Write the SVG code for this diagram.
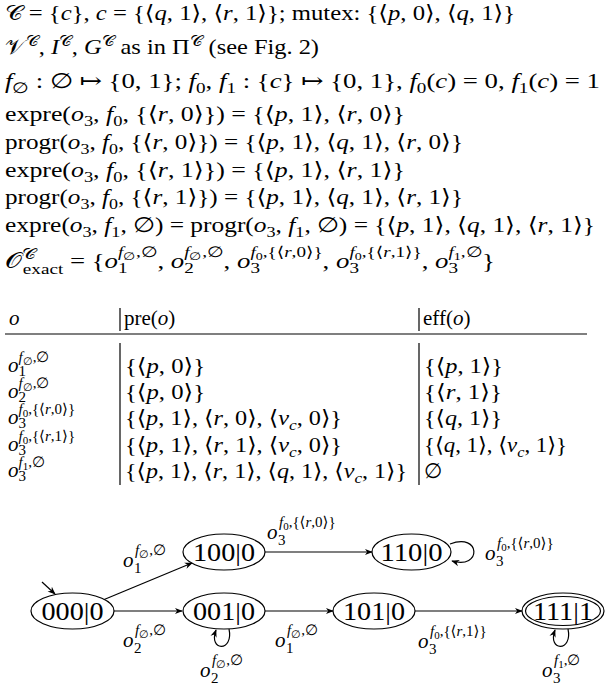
<svg xmlns="http://www.w3.org/2000/svg" width="605" height="687" viewBox="0 0 605 687">
<defs>
<style>
.t{font-family:"Liberation Serif","DejaVu Serif",serif;font-size:21px;fill:#000}
.i{font-style:italic}
.s{font-size:15px}
.ss{font-size:11px}
.nl{font-family:"Liberation Serif","DejaVu Serif",serif;font-size:26px;fill:#000;text-anchor:middle}
.node{fill:#fff;stroke:#000;stroke-width:1.2}
.e{fill:none;stroke:#000;stroke-width:1.2}
.rule{stroke:#000;stroke-width:1.2}
</style>
<marker id="ah" viewBox="0 0 10 10" refX="9" refY="5" markerWidth="8" markerHeight="8" orient="auto" markerUnits="userSpaceOnUse">
<path d="M0,1 L10,5 L0,9 L3,5 z" fill="#000"/>
</marker>
</defs>
<rect width="605" height="687" fill="#fff"/>

<g id="text-lines">
<text class="t" x="5" y="20" textLength="510" lengthAdjust="spacingAndGlyphs">𝒞 = {<tspan class="i">c</tspan>}, <tspan class="i">c</tspan> = {⟨<tspan class="i">q</tspan>, 1⟩, ⟨<tspan class="i">r</tspan>, 1⟩}; mutex: {⟨<tspan class="i">p</tspan>, 0⟩, ⟨<tspan class="i">q</tspan>, 1⟩}</text>
<text class="t" x="5" y="54" textLength="314" lengthAdjust="spacingAndGlyphs">𝒱<tspan class="s" dy="-8">𝒞</tspan><tspan dy="8">, </tspan><tspan class="i">I</tspan><tspan class="s" dy="-8">𝒞</tspan><tspan dy="8">, </tspan><tspan class="i">G</tspan><tspan class="s" dy="-8">𝒞</tspan><tspan dy="8"> as in Π</tspan><tspan class="s" dy="-8">𝒞</tspan><tspan dy="8"> (see Fig. 2)</tspan></text>
<text class="t" x="5" y="88" textLength="595" lengthAdjust="spacingAndGlyphs"><tspan class="i">f</tspan><tspan class="s" dy="5">∅</tspan><tspan dy="-5"> : ∅ ↦ {0, 1}; </tspan><tspan class="i">f</tspan><tspan class="s" dy="5">0</tspan><tspan dy="-5">, </tspan><tspan class="i">f</tspan><tspan class="s" dy="5">1</tspan><tspan dy="-5"> : {</tspan><tspan class="i">c</tspan>} ↦ {0, 1}, <tspan class="i">f</tspan><tspan class="s" dy="5">0</tspan><tspan dy="-5">(</tspan><tspan class="i">c</tspan>) = 0, <tspan class="i">f</tspan><tspan class="s" dy="5">1</tspan><tspan dy="-5">(</tspan><tspan class="i">c</tspan>) = 1</text>
<text class="t" x="5" y="121" textLength="400" lengthAdjust="spacingAndGlyphs">expre(<tspan class="i">o</tspan><tspan class="s" dy="5">3</tspan><tspan dy="-5">, </tspan><tspan class="i">f</tspan><tspan class="s" dy="5">0</tspan><tspan dy="-5">, {⟨</tspan><tspan class="i">r</tspan>, 0⟩}) = {⟨<tspan class="i">p</tspan>, 1⟩, ⟨<tspan class="i">r</tspan>, 0⟩}</text>
<text class="t" x="5" y="149" textLength="458" lengthAdjust="spacingAndGlyphs">progr(<tspan class="i">o</tspan><tspan class="s" dy="5">3</tspan><tspan dy="-5">, </tspan><tspan class="i">f</tspan><tspan class="s" dy="5">0</tspan><tspan dy="-5">, {⟨</tspan><tspan class="i">r</tspan>, 0⟩}) = {⟨<tspan class="i">p</tspan>, 1⟩, ⟨<tspan class="i">q</tspan>, 1⟩, ⟨<tspan class="i">r</tspan>, 0⟩}</text>
<text class="t" x="5" y="177" textLength="400" lengthAdjust="spacingAndGlyphs">expre(<tspan class="i">o</tspan><tspan class="s" dy="5">3</tspan><tspan dy="-5">, </tspan><tspan class="i">f</tspan><tspan class="s" dy="5">0</tspan><tspan dy="-5">, {⟨</tspan><tspan class="i">r</tspan>, 1⟩}) = {⟨<tspan class="i">p</tspan>, 1⟩, ⟨<tspan class="i">r</tspan>, 1⟩}</text>
<text class="t" x="5" y="204" textLength="458" lengthAdjust="spacingAndGlyphs">progr(<tspan class="i">o</tspan><tspan class="s" dy="5">3</tspan><tspan dy="-5">, </tspan><tspan class="i">f</tspan><tspan class="s" dy="5">0</tspan><tspan dy="-5">, {⟨</tspan><tspan class="i">r</tspan>, 1⟩}) = {⟨<tspan class="i">p</tspan>, 1⟩, ⟨<tspan class="i">q</tspan>, 1⟩, ⟨<tspan class="i">r</tspan>, 1⟩}</text>
<text class="t" x="5" y="232" textLength="590" lengthAdjust="spacingAndGlyphs">expre(<tspan class="i">o</tspan><tspan class="s" dy="5">3</tspan><tspan dy="-5">, </tspan><tspan class="i">f</tspan><tspan class="s" dy="5">1</tspan><tspan dy="-5">, ∅) = progr(</tspan><tspan class="i">o</tspan><tspan class="s" dy="5">3</tspan><tspan dy="-5">, </tspan><tspan class="i">f</tspan><tspan class="s" dy="5">1</tspan><tspan dy="-5">, ∅) = {⟨</tspan><tspan class="i">p</tspan>, 1⟩, ⟨<tspan class="i">q</tspan>, 1⟩, ⟨<tspan class="i">r</tspan>, 1⟩}</text>
<text class="t" x="5" y="268" textLength="490" lengthAdjust="spacingAndGlyphs">𝒪<tspan class="s" dy="-9">𝒞</tspan><tspan class="s" dx="-10" dy="15">exact</tspan><tspan dy="-6"> = {</tspan><tspan class="i">o</tspan><tspan class="s" dy="5">1</tspan><tspan class="s" dx="-7.5" dy="-16"><tspan class="i">f</tspan><tspan class="ss" dy="3">∅</tspan><tspan dy="-3">,∅</tspan></tspan><tspan dy="11">, </tspan><tspan class="i">o</tspan><tspan class="s" dy="5">2</tspan><tspan class="s" dx="-7.5" dy="-16"><tspan class="i">f</tspan><tspan class="ss" dy="3">∅</tspan><tspan dy="-3">,∅</tspan></tspan><tspan dy="11">, </tspan><tspan class="i">o</tspan><tspan class="s" dy="5">3</tspan><tspan class="s" dx="-7.5" dy="-16"><tspan class="i">f</tspan><tspan class="ss" dy="3">0</tspan><tspan dy="-3">,{⟨</tspan><tspan class="i">r</tspan>,0⟩}</tspan><tspan dy="11">, </tspan><tspan class="i">o</tspan><tspan class="s" dy="5">3</tspan><tspan class="s" dx="-7.5" dy="-16"><tspan class="i">f</tspan><tspan class="ss" dy="3">0</tspan><tspan dy="-3">,{⟨</tspan><tspan class="i">r</tspan>,1⟩}</tspan><tspan dy="11">, </tspan><tspan class="i">o</tspan><tspan class="s" dy="5">3</tspan><tspan class="s" dx="-7.5" dy="-16"><tspan class="i">f</tspan><tspan class="ss" dy="3">1</tspan><tspan dy="-3">,∅</tspan></tspan><tspan dy="11">}</tspan></text>
</g>

<g id="table">
<text class="t i" x="9" y="325">o</text>
<line class="rule" x1="120" y1="308" x2="120" y2="331"/>
<text class="t" x="124" y="325">pre(<tspan class="i">o</tspan>)</text>
<line class="rule" x1="419" y1="308" x2="419" y2="331"/>
<text class="t" x="423" y="325">eff(<tspan class="i">o</tspan>)</text>
<line class="rule" x1="5" y1="334" x2="587" y2="334"/>
<line class="rule" x1="120" y1="343" x2="120" y2="485"/>
<line class="rule" x1="419" y1="343" x2="419" y2="485"/>

<text class="t" x="8" y="372"><tspan class="i">o</tspan><tspan class="s" dy="4">1</tspan><tspan class="s" dx="-7.5" dy="-14"><tspan class="i">f</tspan><tspan class="ss" dy="3">∅</tspan><tspan dy="-3">,∅</tspan></tspan></text>
<text class="t" x="8" y="398"><tspan class="i">o</tspan><tspan class="s" dy="4">2</tspan><tspan class="s" dx="-7.5" dy="-14"><tspan class="i">f</tspan><tspan class="ss" dy="3">∅</tspan><tspan dy="-3">,∅</tspan></tspan></text>
<text class="t" x="8" y="424"><tspan class="i">o</tspan><tspan class="s" dy="4">3</tspan><tspan class="s" dx="-7.5" dy="-14"><tspan class="i">f</tspan><tspan class="ss" dy="3">0</tspan><tspan dy="-3">,{⟨</tspan><tspan class="i">r</tspan>,0⟩}</tspan></text>
<text class="t" x="8" y="451"><tspan class="i">o</tspan><tspan class="s" dy="4">3</tspan><tspan class="s" dx="-7.5" dy="-14"><tspan class="i">f</tspan><tspan class="ss" dy="3">0</tspan><tspan dy="-3">,{⟨</tspan><tspan class="i">r</tspan>,1⟩}</tspan></text>
<text class="t" x="8" y="477"><tspan class="i">o</tspan><tspan class="s" dy="4">3</tspan><tspan class="s" dx="-7.5" dy="-14"><tspan class="i">f</tspan><tspan class="ss" dy="3">1</tspan><tspan dy="-3">,∅</tspan></tspan></text>

<text class="t" x="125" y="373" textLength="80" lengthAdjust="spacingAndGlyphs">{⟨<tspan class="i">p</tspan>, 0⟩}</text>
<text class="t" x="125" y="399" textLength="80" lengthAdjust="spacingAndGlyphs">{⟨<tspan class="i">p</tspan>, 0⟩}</text>
<text class="t" x="125" y="425" textLength="217" lengthAdjust="spacingAndGlyphs">{⟨<tspan class="i">p</tspan>, 1⟩, ⟨<tspan class="i">r</tspan>, 0⟩, ⟨<tspan class="i">v</tspan><tspan class="s i" dy="5">c</tspan><tspan dy="-5">, 0⟩}</tspan></text>
<text class="t" x="125" y="452" textLength="217" lengthAdjust="spacingAndGlyphs">{⟨<tspan class="i">p</tspan>, 1⟩, ⟨<tspan class="i">r</tspan>, 1⟩, ⟨<tspan class="i">v</tspan><tspan class="s i" dy="5">c</tspan><tspan dy="-5">, 0⟩}</tspan></text>
<text class="t" x="125" y="478" textLength="282" lengthAdjust="spacingAndGlyphs">{⟨<tspan class="i">p</tspan>, 1⟩, ⟨<tspan class="i">r</tspan>, 1⟩, ⟨<tspan class="i">q</tspan>, 1⟩, ⟨<tspan class="i">v</tspan><tspan class="s i" dy="5">c</tspan><tspan dy="-5">, 1⟩}</tspan></text>

<text class="t" x="424" y="373" textLength="79" lengthAdjust="spacingAndGlyphs">{⟨<tspan class="i">p</tspan>, 1⟩}</text>
<text class="t" x="424" y="399" textLength="78" lengthAdjust="spacingAndGlyphs">{⟨<tspan class="i">r</tspan>, 1⟩}</text>
<text class="t" x="424" y="425" textLength="78" lengthAdjust="spacingAndGlyphs">{⟨<tspan class="i">q</tspan>, 1⟩}</text>
<text class="t" x="424" y="452" textLength="143" lengthAdjust="spacingAndGlyphs">{⟨<tspan class="i">q</tspan>, 1⟩, ⟨<tspan class="i">v</tspan><tspan class="s i" dy="5">c</tspan><tspan dy="-5">, 1⟩}</tspan></text>
<text class="t" x="424" y="478">∅</text>
</g>

<g id="edges">
<line class="e" x1="42" y1="582" x2="55" y2="594" marker-end="url(#ah)"/>
<line class="e" x1="103" y1="600" x2="192" y2="563" marker-end="url(#ah)"/>
<line class="e" x1="114" y1="611" x2="182" y2="611" marker-end="url(#ah)"/>
<line class="e" x1="265" y1="552" x2="372" y2="552" marker-end="url(#ah)"/>
<line class="e" x1="265" y1="611" x2="333" y2="611" marker-end="url(#ah)"/>
<line class="e" x1="415" y1="611" x2="522" y2="611" marker-end="url(#ah)"/>
<path class="e" d="M229,629 C234,652 208,652 216,630" marker-end="url(#ah)"/>
<path class="e" d="M450,544 C481,532 482,570 452,561" marker-end="url(#ah)"/>
<path class="e" d="M568,629 C573,652 547,652 555,630" marker-end="url(#ah)"/>
</g>

<g id="edge-labels">
<text class="t"><tspan class="i" x="123" y="567">o</tspan><tspan class="s" x="134" y="573">1</tspan><tspan class="s" x="135" y="555"><tspan class="i">f</tspan><tspan class="ss" dy="3">∅</tspan><tspan dy="-3">,∅</tspan></tspan></text>
<text class="t"><tspan class="i" x="123" y="647">o</tspan><tspan class="s" x="134" y="653">2</tspan><tspan class="s" x="135" y="635"><tspan class="i">f</tspan><tspan class="ss" dy="3">∅</tspan><tspan dy="-3">,∅</tspan></tspan></text>
<text class="t"><tspan class="i" x="200" y="677">o</tspan><tspan class="s" x="211" y="683">2</tspan><tspan class="s" x="212" y="665"><tspan class="i">f</tspan><tspan class="ss" dy="3">∅</tspan><tspan dy="-3">,∅</tspan></tspan></text>
<text class="t"><tspan class="i" x="275" y="647">o</tspan><tspan class="s" x="286" y="653">1</tspan><tspan class="s" x="287" y="635"><tspan class="i">f</tspan><tspan class="ss" dy="3">∅</tspan><tspan dy="-3">,∅</tspan></tspan></text>
<text class="t"><tspan class="i" x="267" y="539">o</tspan><tspan class="s" x="278" y="545">3</tspan><tspan class="s" x="279" y="527"><tspan class="i">f</tspan><tspan class="ss" dy="3">0</tspan><tspan dy="-3">,{⟨</tspan><tspan class="i">r</tspan>,0⟩}</tspan></text>
<text class="t"><tspan class="i" x="485" y="560">o</tspan><tspan class="s" x="496" y="566">3</tspan><tspan class="s" x="497" y="548"><tspan class="i">f</tspan><tspan class="ss" dy="3">0</tspan><tspan dy="-3">,{⟨</tspan><tspan class="i">r</tspan>,0⟩}</tspan></text>
<text class="t"><tspan class="i" x="418" y="648">o</tspan><tspan class="s" x="429" y="654">3</tspan><tspan class="s" x="430" y="636"><tspan class="i">f</tspan><tspan class="ss" dy="3">0</tspan><tspan dy="-3">,{⟨</tspan><tspan class="i">r</tspan>,1⟩}</tspan></text>
<text class="t"><tspan class="i" x="542" y="677">o</tspan><tspan class="s" x="553" y="683">3</tspan><tspan class="s" x="554" y="665"><tspan class="i">f</tspan><tspan class="ss" dy="3">1</tspan><tspan dy="-3">,∅</tspan></tspan></text>
</g>

<g id="n000"><ellipse class="node" cx="72.5" cy="611" rx="41.5" ry="18"/><text class="nl" x="72.5" y="620" textLength="62" lengthAdjust="spacingAndGlyphs">000|0</text></g>
<g id="n100"><ellipse class="node" cx="224" cy="552" rx="41" ry="18"/><text class="nl" x="224" y="561" textLength="62" lengthAdjust="spacingAndGlyphs">100|0</text></g>
<g id="n110"><ellipse class="node" cx="411.5" cy="552" rx="39.5" ry="18"/><text class="nl" x="411.5" y="561" textLength="62" lengthAdjust="spacingAndGlyphs">110|0</text></g>
<g id="n001"><ellipse class="node" cx="224" cy="611" rx="41" ry="18"/><text class="nl" x="224" y="620" textLength="62" lengthAdjust="spacingAndGlyphs">001|0</text></g>
<g id="n101"><ellipse class="node" cx="374" cy="611" rx="41" ry="18"/><text class="nl" x="374" y="620" textLength="62" lengthAdjust="spacingAndGlyphs">101|0</text></g>
<g id="n111"><ellipse class="node" cx="563" cy="611" rx="41" ry="18"/><ellipse class="node" cx="563" cy="611" rx="37.5" ry="14.5"/><text class="nl" x="563" y="620" textLength="60" lengthAdjust="spacingAndGlyphs">111|1</text></g>
</svg>
